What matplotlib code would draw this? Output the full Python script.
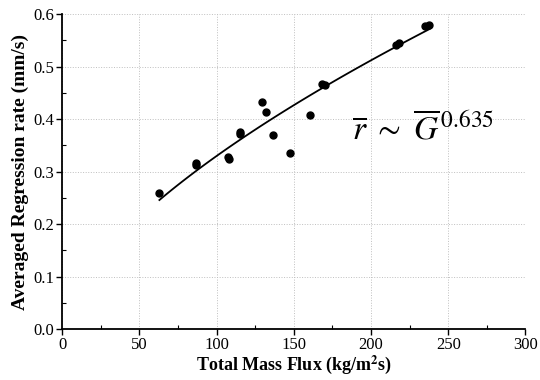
import numpy as np
import matplotlib
matplotlib.use("Agg")
import matplotlib.pyplot as plt
from matplotlib.ticker import MultipleLocator

mass_flux = [63, 86.5, 87, 107.5, 108, 115, 115.5, 129.3, 132.3, 136.4, 147.3,
             160.8, 168, 170, 216, 218, 234.9, 237.4]
regr_rate = [0.26, 0.316, 0.312, 0.328, 0.324, 0.376, 0.371, 0.432, 0.413, 0.37, 0.335,
             0.408, 0.466, 0.465, 0.542, 0.544, 0.577, 0.58]

# power-law fit r = a * G^n
fit_a = 0.0177
fit_n = 0.635
fit_range = (63, 238)

plt.rcParams['font.family'] = ['Liberation Serif', 'DejaVu Serif']
plt.rcParams['mathtext.fontset'] = 'stix'

fig = plt.figure(figsize=(5.4, 3.8), dpi=100)
ax = fig.add_axes([0.115, 0.134, 0.858, 0.829])

G = np.linspace(fit_range[0], fit_range[1], 100)
ax.plot(G, fit_a * G ** fit_n, color='black', lw=1.3)
ax.plot(mass_flux, regr_rate, 'o', color='black', ms=5)

ax.set_xlim(0, 300)
ax.set_ylim(0, 0.6)
ax.xaxis.set_major_locator(MultipleLocator(50))
ax.xaxis.set_minor_locator(MultipleLocator(25))
ax.yaxis.set_major_locator(MultipleLocator(0.1))
ax.yaxis.set_minor_locator(MultipleLocator(0.05))
ax.yaxis.set_major_formatter(plt.FormatStrFormatter('%.1f'))
ax.tick_params(which='major', direction='out', length=4, width=1, labelsize=12, pad=2)
ax.tick_params(which='minor', direction='in', length=3, width=0.8)

for s in ['top', 'right']:
    ax.spines[s].set_visible(False)
for s in ['left', 'bottom']:
    ax.spines[s].set_linewidth(1.3)

ax.grid(True, which='major', linestyle=':', color='0.75', lw=0.7)

ax.set_xlabel('Total Mass Flux (kg/m$^\\mathbf{2}$s)', fontsize=13, fontweight='bold', labelpad=0)
ax.set_ylabel('Averaged Regression rate (mm/s)', fontsize=14, fontweight='bold', labelpad=3)

ax.text(188, 0.362, r'$\overline{r}\ \sim\ \overline{G}^{\,0.635}$', fontsize=24)

fig.savefig('out.png', dpi=100)
